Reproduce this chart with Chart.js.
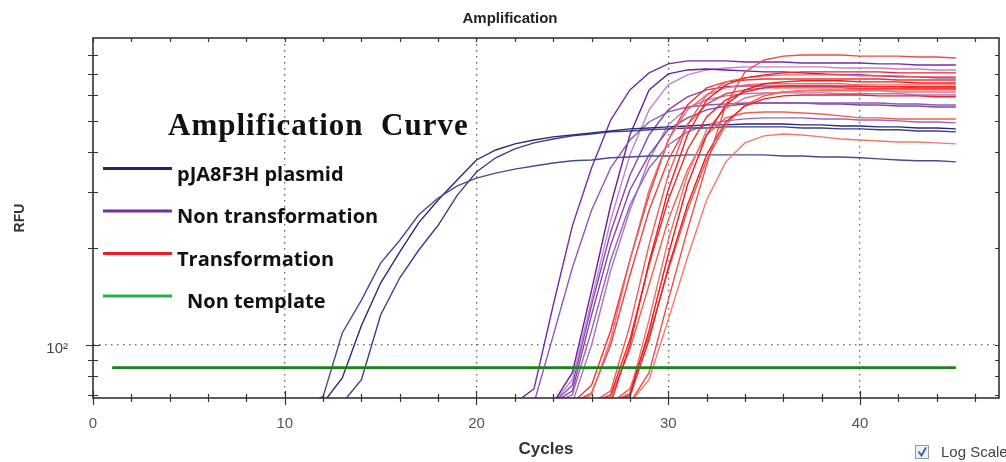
<!DOCTYPE html>
<html>
<head>
<meta charset="utf-8">
<title>Amplification</title>
<script src="https://cdn.jsdelivr.net/npm/chart.js@4"></script>
<style>
  html, body { margin: 0; padding: 0; background: #fff; }
</style>
</head>
<body>
<canvas id="ampChart" width="1006" height="462"></canvas>
<script>
// axis ticks
const cycleTicks = [0, 10, 20, 30, 40];
const cycleMinorTicks = [0, 2, 4, 6, 8, 10, 12, 14, 16, 18, 20, 22, 24, 26, 28, 30, 32, 34, 36, 38, 40, 42, 44, 46];
const rfuTicks = [70, 80, 90, 100, 200, 300, 400, 500, 600, 700, 800];

// chart title and legend overlay
const chartTitle = 'Amplification';
const legendTitle = 'Amplification  Curve';
const legendLabels = ['pJA8F3H plasmid', 'Non transformation', 'Transformation', 'Non template'];
const legendColors = ['#1b2a6b', '#7030a0', '#ee1c24', '#22b14c'];

// pJA8F3H plasmid (RFU per cycle, first value at the start cycle)
const plasmidStart = [11, 12, 13];
const plasmidCurves = [
    [66, 69, 109, 138, 180, 212, 255, 287, 313, 331, 343, 353, 361, 369, 375, 377, 383, 385, 388, 388, 391, 391, 391, 391, 391, 388, 388, 385, 385, 383, 380, 377, 375, 375, 372],
    [66, 79, 115, 156, 195, 241, 283, 327, 377, 405, 423, 435, 445, 451, 458, 464, 471, 474, 478, 481, 485, 485, 488, 488, 488, 485, 485, 481, 481, 478, 478, 474, 474, 471],
    [66, 78, 124, 162, 198, 236, 293, 346, 383, 408, 426, 438, 448, 454, 461, 464, 468, 471, 474, 474, 478, 478, 478, 478, 474, 474, 471, 471, 468, 468, 464, 464, 461]
];
const plasmidColors = ['#4a4a8e', '#2a2a7a', '#3e3e88'];

// Non transformation
const nonTransStart = [22, 23, 24, 24, 24, 24, 24, 25];
const nonTransCurves = [
    [66, 73, 133, 235, 356, 502, 623, 704, 751, 767, 767, 767, 761, 761, 761, 756, 756, 756, 756, 751, 751, 745, 745, 745],
    [66, 107, 174, 263, 356, 435, 495, 532, 551, 559, 563, 567, 567, 567, 567, 567, 567, 567, 567, 563, 563, 559, 559],
    [66, 82, 148, 273, 451, 623, 699, 719, 724, 719, 714, 709, 709, 704, 699, 694, 694, 689, 684, 684, 679, 679],
    [66, 78, 138, 245, 391, 540, 646, 694, 719, 729, 735, 735, 735, 735, 735, 729, 729, 729, 724, 724, 719, 719],
    [66, 75, 133, 225, 338, 451, 540, 593, 623, 637, 641, 641, 641, 641, 641, 637, 637, 637, 637, 632, 632, 632],
    [66, 72, 124, 205, 304, 391, 468, 510, 540, 555, 563, 567, 567, 567, 563, 563, 559, 559, 555, 555, 551, 551],
    [66, 70, 111, 184, 273, 356, 420, 461, 485, 499, 506, 510, 510, 510, 506, 506, 502, 502, 499, 495, 495, 492],
    [66, 100, 171, 263, 377, 485, 547, 580, 597, 606, 610, 610, 610, 610, 606, 606, 606, 606, 601, 601, 601]
];
const nonTransColors = ['#7a2aa6', '#9158b4', '#6a1f9a', '#c282d2', '#8a45b0', '#7e4aa8', '#9a62c0', '#a874c8'];

// Transformation
const transStart = [28, 27, 26, 27, 25, 26, 25, 27, 27, 26, 28, 25, 27];
const transCurves = [
    [66, 82, 138, 228, 364, 559, 709, 772, 794, 800, 800, 800, 794, 794, 794, 789, 789, 783],
    [66, 100, 181, 304, 451, 580, 646, 679, 694, 704, 709, 709, 709, 709, 709, 704, 704, 704, 704],
    [66, 72, 115, 205, 338, 485, 601, 660, 679, 689, 694, 694, 694, 694, 689, 689, 689, 684, 684, 684],
    [66, 70, 111, 191, 315, 451, 559, 623, 651, 660, 665, 665, 665, 660, 660, 660, 655, 655, 655],
    [66, 70, 104, 184, 304, 435, 540, 601, 632, 646, 651, 651, 651, 651, 651, 646, 646, 646, 646, 646, 646],
    [66, 70, 104, 178, 283, 405, 513, 580, 614, 632, 641, 641, 641, 641, 641, 637, 637, 637, 637, 637],
    [66, 71, 100, 165, 263, 377, 485, 563, 606, 623, 632, 632, 632, 632, 632, 628, 628, 628, 628, 628, 628],
    [66, 71, 120, 212, 338, 468, 547, 588, 606, 614, 619, 619, 619, 619, 619, 614, 614, 614, 614],
    [66, 69, 104, 174, 273, 391, 495, 555, 584, 597, 601, 601, 601, 601, 597, 597, 597, 593, 593],
    [66, 69, 97, 154, 245, 351, 451, 510, 528, 532, 532, 528, 524, 517, 510, 510, 506, 506, 506, 506],
    [66, 78, 120, 187, 283, 372, 426, 448, 454, 451, 445, 438, 435, 432, 429, 429, 426, 423],
    [66, 75, 111, 184, 293, 435, 559, 632, 660, 669, 674, 674, 674, 674, 674, 674, 674, 669, 669, 669, 669],
    [66, 73, 107, 171, 263, 377, 485, 559, 597, 614, 619, 623, 623, 623, 623, 623, 623, 623, 623]
];
const transColors = ['#f04a4a', '#ee2020', '#f25a5a', '#e81c1c', '#f36a6a', '#ec2a2a', '#f04040', '#f27070', '#e82424', '#f06050', '#f07a6a', '#f03434', '#f25252'];

// Non template
const nonTemplateStart = 1;
const nonTemplateRfu = [85, 85, 85, 85, 85, 85, 85, 85, 85, 85, 85, 85, 85, 85, 85, 85, 85, 85, 85, 85, 85, 85, 85,
    85, 85, 85, 85, 85, 85, 85, 85, 85, 85, 85, 85, 85, 85, 85, 85, 85, 85, 85, 85, 85, 85];

const datasets = [];

const addGroup = (curves, starts, colors, order, width) => {
    curves.forEach((values, i) => {
        datasets.push({
            data: values.map((v, k) => ({ x: starts[i] + k, y: v })),
            borderColor: colors[i % colors.length],
            borderWidth: width,
            pointRadius: 0,
            tension: 0,
            fill: false,
            order: order
        });
    });
};

addGroup(nonTransCurves, nonTransStart, nonTransColors, 3, 1.4);
addGroup(plasmidCurves, plasmidStart, plasmidColors, 2, 1.4);
addGroup(transCurves, transStart, transColors, 1, 1.4);
addGroup([nonTemplateRfu], [nonTemplateStart], ['#1a821a'], 0, 2.8);

// frame and tick marks like the instrument software
const frameTicks = {
    id: 'frameTicks',
    afterDatasetsDraw(chart) {
        const { ctx, chartArea: a, scales: { x, y } } = chart;
        ctx.save();
        ctx.strokeStyle = '#333';
        ctx.lineWidth = 1.2;
        ctx.beginPath();
        cycleMinorTicks.forEach(c => {
            const px = Math.round(x.getPixelForValue(c)) + 0.5;
            const len = cycleTicks.includes(c) ? 7 : 4;
            ctx.moveTo(px, a.bottom - len);
            ctx.lineTo(px, a.bottom + len);
            ctx.moveTo(px, a.top);
            ctx.lineTo(px, a.top + 4);
        });
        rfuTicks.forEach(v => {
            const py = Math.round(y.getPixelForValue(v)) + 0.5;
            const len = v === 100 ? 7 : 5;
            ctx.moveTo(a.left - len, py);
            ctx.lineTo(a.left + len, py);
            ctx.moveTo(a.right - 4, py);
            ctx.lineTo(a.right, py);
        });
        ctx.stroke();
        ctx.lineWidth = 1.6;
        ctx.strokeRect(a.left, a.top, a.right - a.left, a.bottom - a.top);
        ctx.restore();
    }
};

const overlayLegend = {
    id: 'overlayLegend',
    afterDraw(chart) {
        const ctx = chart.ctx;
        ctx.save();

        // window title
        ctx.fillStyle = '#222';
        ctx.textAlign = 'center';
        ctx.textBaseline = 'middle';
        ctx.font = 'bold 15px "Liberation Sans", Arial, sans-serif';
        ctx.fillText(chartTitle, 510, 19);

        ctx.textAlign = 'left';
        ctx.fillStyle = '#111';
        ctx.textBaseline = 'alphabetic';
        ctx.font = 'bold 31px "Liberation Serif", "Times New Roman", serif';
        ctx.letterSpacing = '1px';
        ctx.fillText(legendTitle, 168, 135);
        ctx.letterSpacing = '0px';

        ctx.font = 'bold 20px "Open Sans", sans-serif';
        legendLabels.forEach((label, i) => {
            const base = 180.5 + i * 42.5;
            ctx.strokeStyle = legendColors[i];
            ctx.lineWidth = 3;
            ctx.beginPath();
            ctx.moveTo(103, base - 12);
            ctx.lineTo(172, base - 12);
            ctx.stroke();
            ctx.fillStyle = '#111';
            ctx.fillText(label, i === 3 ? 187 : 177, base);
        });

        // Log Scale check box
        ctx.fillStyle = '#eef2f7';
        ctx.fillRect(915.5, 445.5, 13, 13);
        ctx.strokeStyle = '#8c9bb0';
        ctx.lineWidth = 1;
        ctx.strokeRect(915.5, 445.5, 13, 13);
        ctx.strokeStyle = '#3c5fb8';
        ctx.lineWidth = 1.8;
        ctx.beginPath();
        ctx.moveTo(918.5, 451.5);
        ctx.lineTo(921.5, 455.5);
        ctx.lineTo(926, 447.5);
        ctx.stroke();
        ctx.fillStyle = '#444';
        ctx.font = '15px "Liberation Sans", Arial, sans-serif';
        ctx.textBaseline = 'middle';
        ctx.fillText('Log Scale', 941, 453);
        ctx.restore();
    }
};

const ctx = document.getElementById('ampChart').getContext('2d');

new Chart(ctx, {
    type: 'line',
    data: { datasets: datasets },
    options: {
        responsive: false,
        animation: false,
        layout: { padding: { left: 0, right: 7, top: 38, bottom: 0 } },
        plugins: {
            legend: { display: false },
            tooltip: { enabled: false },
            title: { display: false }
        },
        scales: {
            x: {
                type: 'linear',
                min: 0,
                max: 47.25,
                afterBuildTicks: s => { s.ticks = cycleTicks.map(v => ({ value: v })); },
                afterFit: s => { s.height = 64; },
                ticks: {
                    color: '#555',
                    padding: 17,
                    font: { family: '"Liberation Sans", Arial, sans-serif', size: 15 }
                },
                grid: {
                    drawTicks: false,
                    lineWidth: 1.3,
                    color: c => (c.tick && c.tick.value > 0) ? '#666' : 'transparent'
                },
                border: { display: false, dash: [1.5, 4.5] },
                title: {
                    display: true,
                    text: 'Cycles',
                    color: '#333',
                    font: { family: '"Liberation Sans", Arial, sans-serif', size: 17, weight: 'bold' },
                    padding: { top: 2, bottom: 2 }
                }
            },
            y: {
                type: 'logarithmic',
                min: 68.4,
                max: 904,
                afterBuildTicks: s => { s.ticks = rfuTicks.map(v => ({ value: v })); },
                afterFit: s => { s.width = 93; },
                ticks: {
                    autoSkip: false,
                    color: '#444',
                    padding: 25,
                    labelOffset: 4,
                    font: { family: '"Liberation Sans", Arial, sans-serif', size: 15 },
                    callback: v => v === 100 ? '10²' : ''
                },
                grid: {
                    drawTicks: false,
                    lineWidth: 1.3,
                    color: c => (c.tick && c.tick.value === 100) ? '#666' : 'transparent'
                },
                border: { display: false, dash: [1.5, 4.5] },
                title: {
                    display: true,
                    text: 'RFU',
                    color: '#333',
                    font: { family: '"Liberation Sans", Arial, sans-serif', size: 14, weight: 'bold' },
                    padding: { top: 12, bottom: 12 }
                }
            }
        }
    },
    plugins: [frameTicks, overlayLegend]
});
</script>
</body>
</html>
